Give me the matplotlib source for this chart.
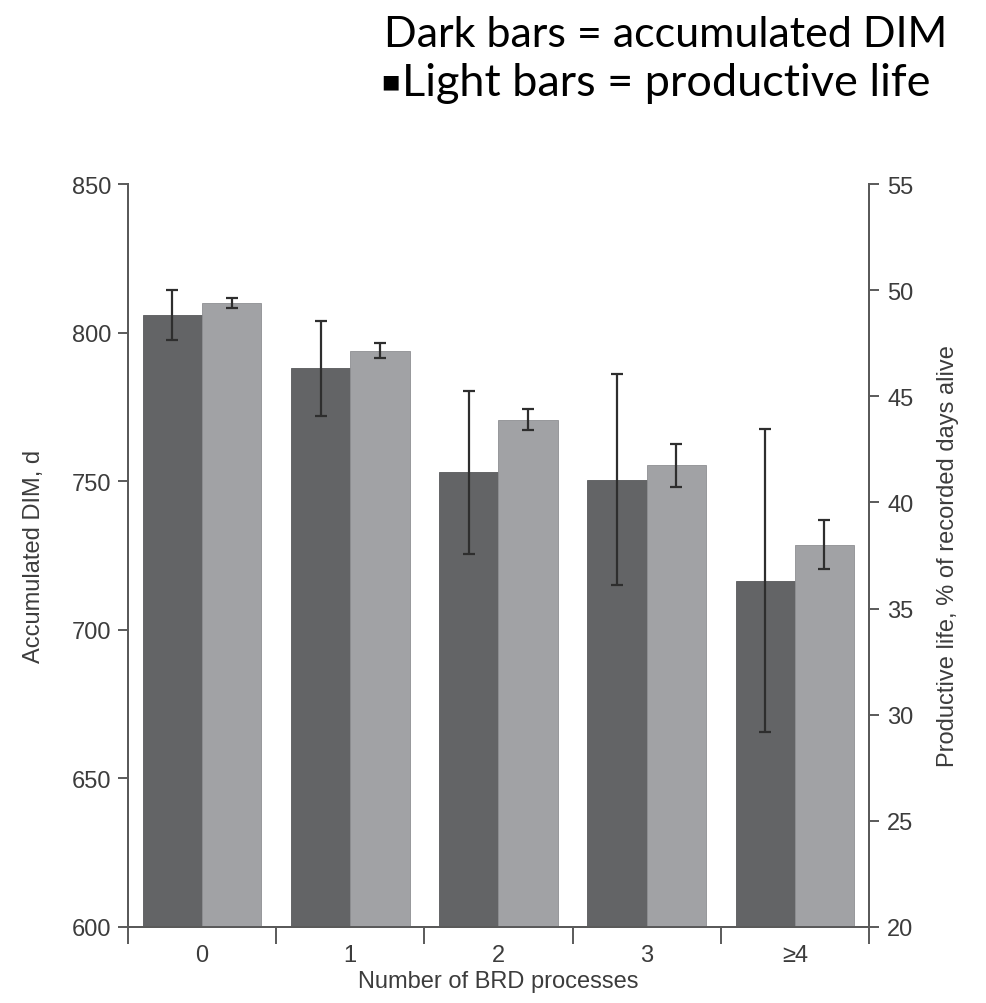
import numpy as np
import matplotlib
matplotlib.use("Agg")
import matplotlib.pyplot as plt

# data
groups = ["0", "1", "2", "3", "\u22654"]
dim_days = [806, 788, 753, 750.5, 716.5]
dim_err = [8.5, 16, 27.5, 35.5, 51]
prod_life = [49.4, 47.15, 43.9, 41.75, 38.0]
prod_err = [0.22, 0.36, 0.5, 1.0, 1.15]

tick_font = "Liberation Sans"
title_font = "Lato"

dark = "#636466"
light = "#a1a2a5"
axis_col = "#5a5a5a"
text_col = "#3c3c3c"

fig = plt.figure(figsize=(9.87, 10.04), dpi=100)
ax = fig.add_axes([0.1297, 0.0757, 0.7507, 0.74])
ax2 = ax.twinx()

x = np.arange(len(groups))
w = 0.4

ax.bar(x - w / 2, dim_days, width=w, color=dark, edgecolor="#58595b", linewidth=0.6, zorder=2)
ax.errorbar(x - w / 2, dim_days, yerr=dim_err, fmt="none", ecolor="#2e2e2e",
            elinewidth=1.6, capsize=4, capthick=1.6, zorder=4)
ax2.bar(x + w / 2, prod_life, width=w, color=light, edgecolor="#8e8f92", linewidth=0.6, zorder=2)
ax2.errorbar(x + w / 2, prod_life, yerr=prod_err, fmt="none", ecolor="#2e2e2e",
             elinewidth=1.6, capsize=4, capthick=1.6, zorder=4)

ax.set_xlim(-0.5, 4.5)
ax.set_ylim(600, 850)
ax2.set_ylim(20, 55)
ax.set_yticks([600, 650, 700, 750, 800, 850])
ax2.set_yticks([20, 25, 30, 35, 40, 45, 50, 55])

ax.set_xticks(x)
ax.set_xticklabels(groups)
ax.set_xticks(np.arange(-0.5, 5.0, 1.0), minor=True)
ax.tick_params(axis="x", which="major", length=0, pad=12)
ax.tick_params(axis="x", which="minor", length=12, width=1.4, color=axis_col, direction="out")
ax.tick_params(axis="y", length=7, width=1.4, color=axis_col, direction="out", pad=5)
ax2.tick_params(axis="y", length=7, width=1.4, color=axis_col, direction="out", pad=6)

for a in (ax, ax2):
    for lab in a.get_xticklabels() + a.get_yticklabels():
        lab.set_fontfamily(tick_font)
        lab.set_fontsize(17)
        lab.set_color(text_col)
    a.spines["top"].set_visible(False)
    for s in ("left", "right", "bottom"):
        a.spines[s].set_color(axis_col)
        a.spines[s].set_linewidth(1.4)

ax.set_xlabel("Number of BRD processes", fontfamily=tick_font, fontsize=17, color=text_col, labelpad=3)
ax.set_ylabel("Accumulated DIM, d", fontfamily=tick_font, fontsize=17, color=text_col)
ax2.set_ylabel("Productive life, % of recorded days alive", fontfamily=tick_font, fontsize=17, color=text_col)
ax.yaxis.set_label_coords(-0.112, 0.5)
ax2.yaxis.set_label_coords(1.092, 0.5)

# header lines above the chart
fig.text(0.389, 0.965, "Dark bars = accumulated DIM", fontfamily=title_font, fontsize=31,
         color="black", va="center", ha="left")
fig.text(0.386, 0.918, "\u25a0", fontfamily="DejaVu Sans", fontsize=14, color="black", va="center", ha="left")
fig.text(0.407, 0.917, "Light bars = productive life", fontfamily=title_font, fontsize=32.5,
         color="black", va="center", ha="left")

fig.savefig("out.png", dpi=100)
